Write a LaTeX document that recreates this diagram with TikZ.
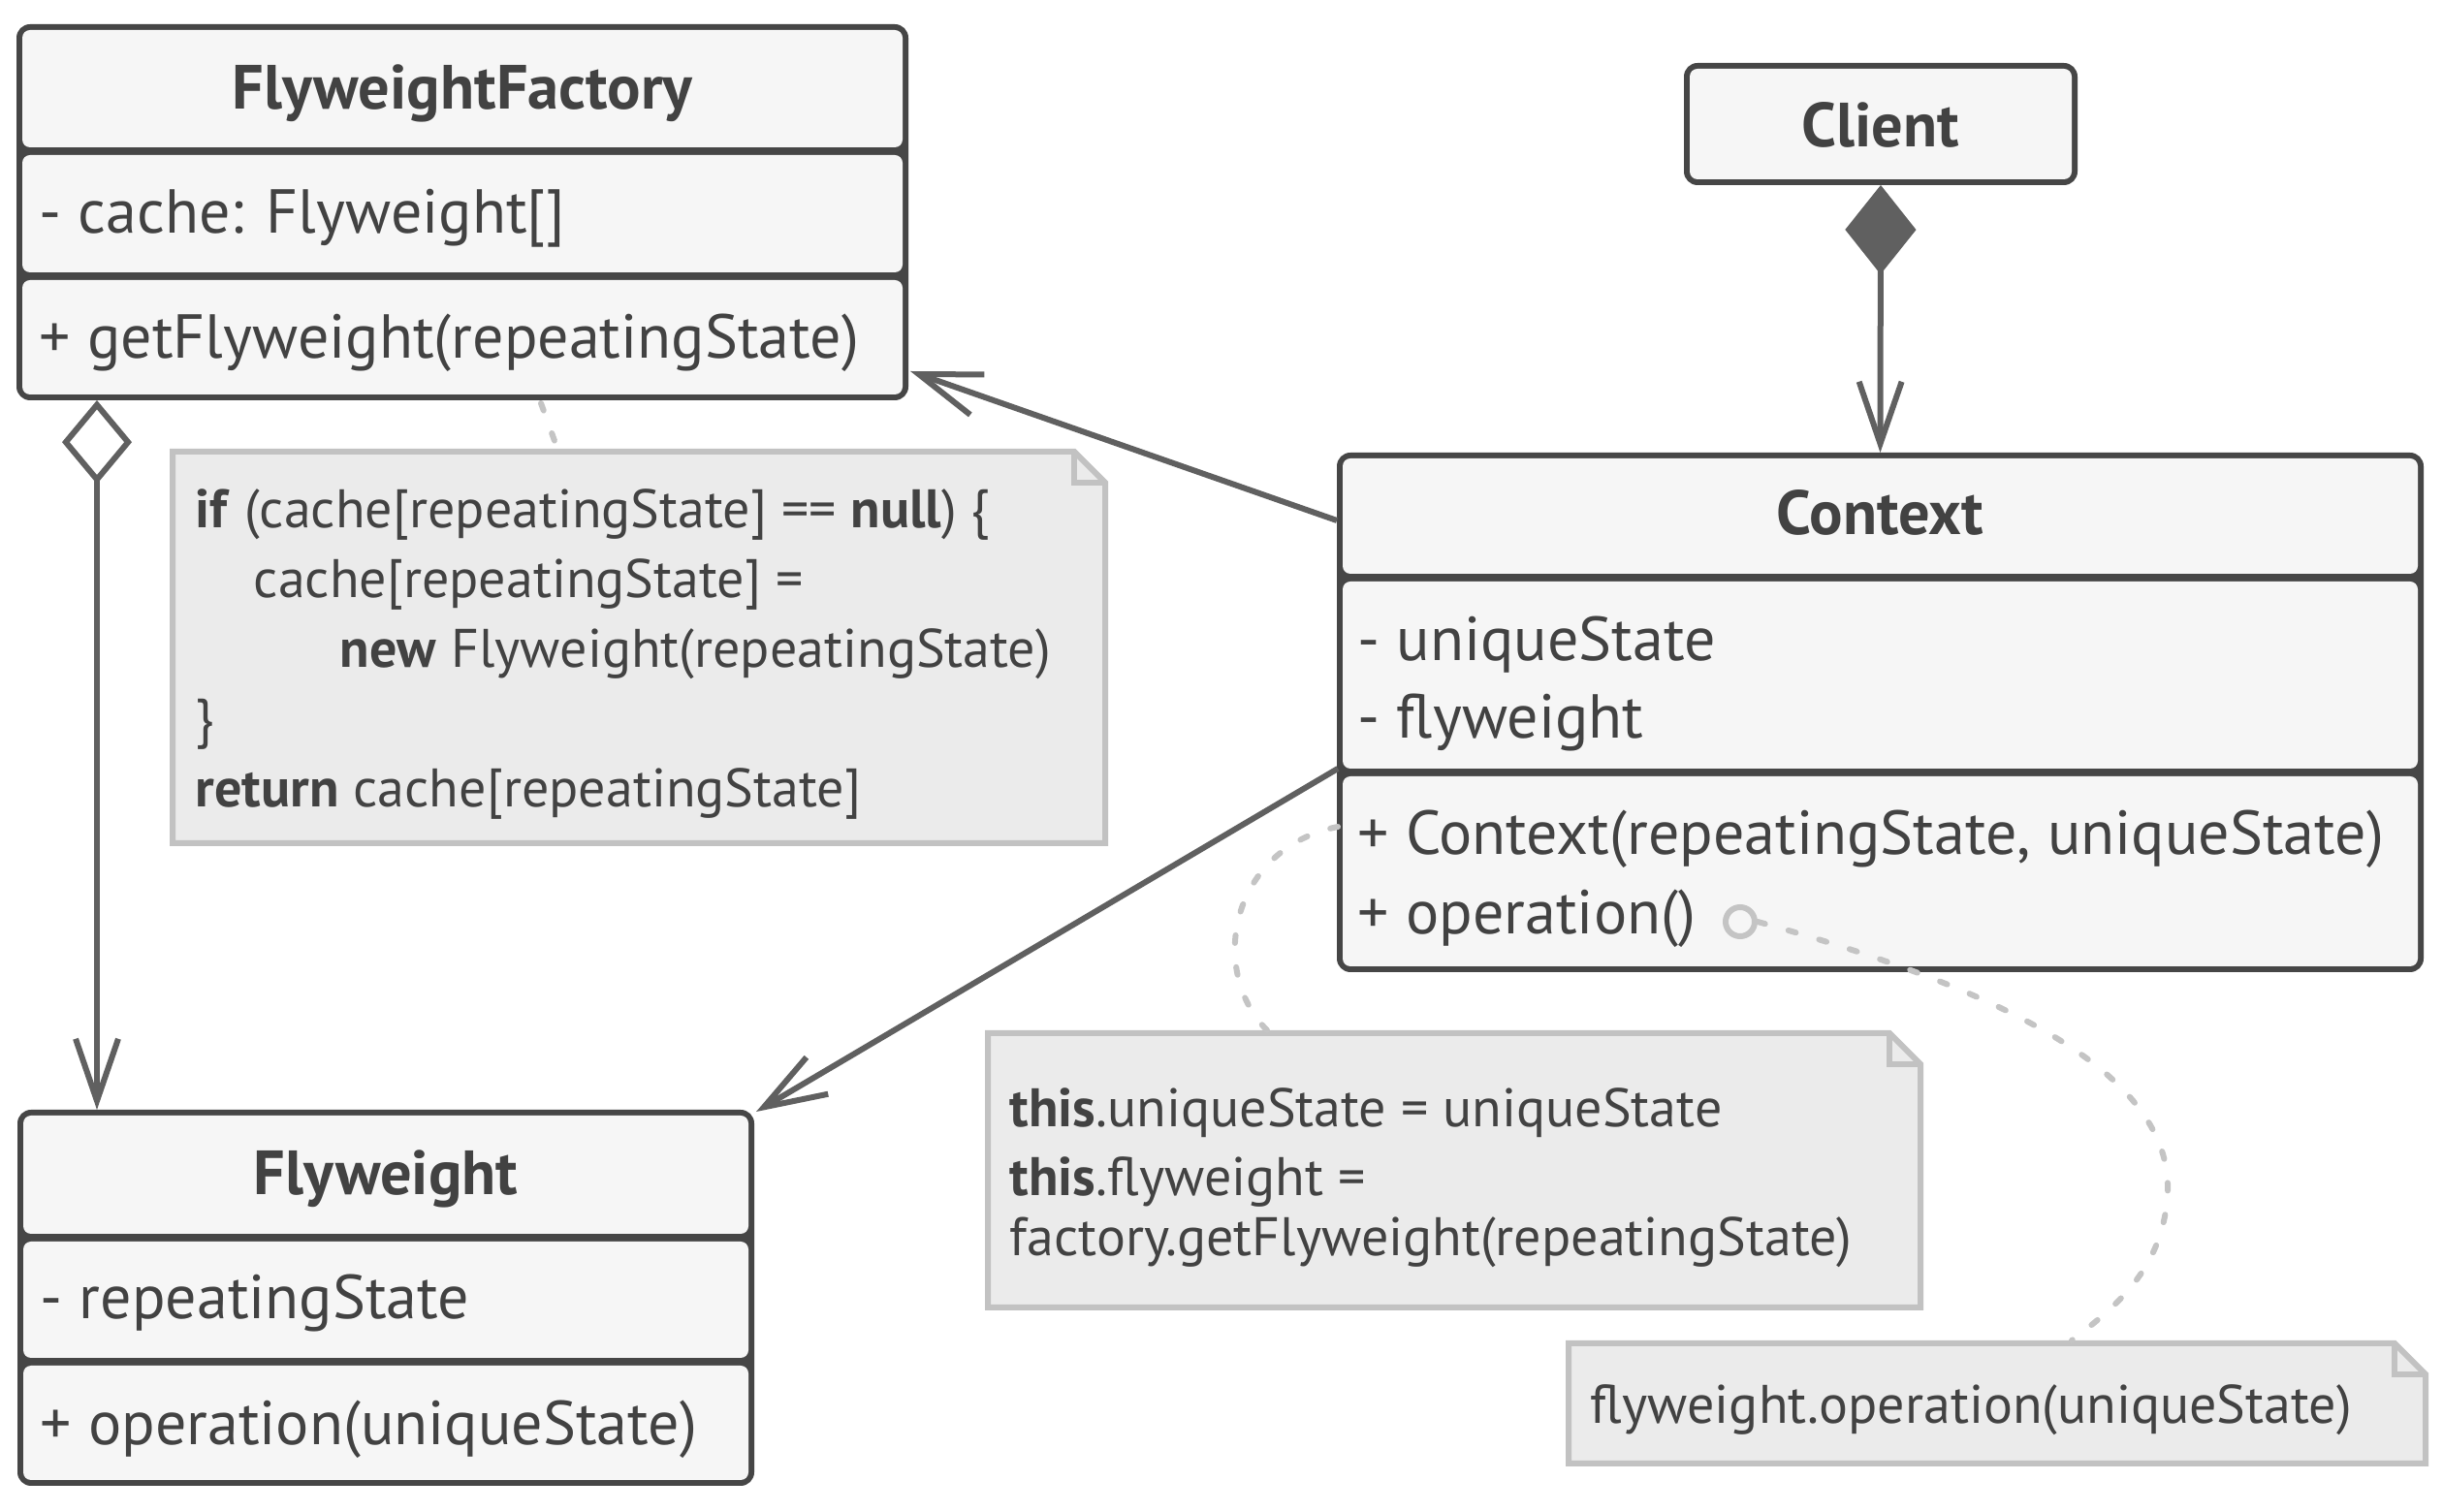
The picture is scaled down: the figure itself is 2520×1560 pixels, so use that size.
\documentclass[tikz,border=0pt]{standalone}
\usepackage{fontspec}
\setmainfont{PT Sans}
\usetikzlibrary{arrows.meta,calc,fit}

\definecolor{boxdark}{HTML}{464646}
\definecolor{boxfill}{HTML}{F6F6F6}
\definecolor{textcol}{HTML}{424242}
\definecolor{linecol}{HTML}{606060}
\definecolor{notefill}{HTML}{EBEBEB}
\definecolor{noteline}{HTML}{C2C2C2}
\definecolor{dashcol}{HTML}{C4C4C4}

\begin{document}
\begin{tikzpicture}[x=0.25pt,y=-0.25pt,
  classouter/.style={inner sep=0pt, outer sep=0pt, fill=boxdark, rounded corners=3.5pt},
  section/.style={inner sep=0pt, outer sep=0pt, fill=boxfill, rounded corners=2pt},
  headtext/.style={anchor=base, inner sep=0pt, text=textcol, font=\fontsize{16.1}{19}\selectfont\bfseries},
  membertext/.style={anchor=base west, inner sep=0pt, text=textcol, font=\fontsize{16}{19}\selectfont},
  notetext/.style={anchor=base west, inner sep=0pt, text=textcol, font=\fontsize{14}{17}\selectfont},
  notearea/.style={inner sep=0pt, outer sep=0pt},
  noteshape/.style={draw=noteline, fill=notefill, line width=1.5pt, line join=miter},
  assoc/.style={draw=linecol, line width=1.5pt, -{Straight Barb[length=16pt,width=11pt]}},
  composition/.style={draw=linecol, line width=1.5pt,
    {Diamond[length=23pt,width=18.3pt,fill=linecol]}-{Straight Barb[length=16pt,width=11pt]}},
  aggregation/.style={draw=linecol, line width=1.5pt,
    {Diamond[open,length=21.6pt,width=18pt]}-{Straight Barb[length=16pt,width=11pt]}},
  notelink/.style={draw=dashcol, line width=1.5pt, line cap=round, dash pattern=on 2pt off 6.25pt},
]
\fill[white] (0,0) rectangle (2520,1560);
\useasboundingbox (0,0) rectangle (2520,1560);

% ---------- FlyweightFactory ----------
\node[classouter, fit={(17,25) (937,413)}] (ff) {};
\node[section, fit={(23,31) (931,152)}] (ff-head) {};
\node[section, fit={(23,160) (931,281)}] (ff-attr) {};
\node[section, fit={(23,289) (931,407)}] (ff-ops) {};
\node[headtext] (ff-name) at (477,113) {FlyweightFactory};
\node[membertext] (ff-cache) at (40,241) {- cache: Flyweight[]};
\node[membertext] (ff-get) at (40,370) {+ getFlyweight(repeatingState)};

% ---------- Client ----------
\node[classouter, fit={(1737,65) (2143,191)}] (client) {};
\node[section, fit={(1743,71) (2137,185)}] (client-head) {};
\node[headtext] (client-name) at (1940,152) {Client};

% ---------- Context ----------
\node[classouter, fit={(1379,467) (2500,1003)}] (ctx) {};
\node[section, fit={(1385,473) (2494,592)}] (ctx-head) {};
\node[section, fit={(1385,600) (2494,793)}] (ctx-attr) {};
\node[section, fit={(1385,801) (2494,997)}] (ctx-ops) {};
\node[headtext] (ctx-name) at (1939.5,552) {Context};
\node[membertext] (ctx-unique) at (1400,682) {- uniqueState};
\node[membertext] (ctx-fw) at (1400,762) {- flyweight};
\node[membertext] (ctx-ctor) at (1400,882) {+ Context(repeatingState, uniqueState)};
\node[membertext] (ctx-op) at (1400,964) {+ operation()};
\node[circle, draw=dashcol, line width=1.5pt, inner sep=0pt, minimum size=7.5pt] (opdot) at (1795,951) {};

% ---------- Flyweight ----------
\node[classouter, fit={(18,1145) (778,1533)}] (fw) {};
\node[section, fit={(24,1151) (772,1273)}] (fw-head) {};
\node[section, fit={(24,1281) (772,1401)}] (fw-attr) {};
\node[section, fit={(24,1409) (772,1527)}] (fw-ops) {};
\node[headtext] (fw-name) at (398,1233) {Flyweight};
\node[membertext] (fw-state) at (41,1361) {- repeatingState};
\node[membertext] (fw-op) at (41,1491) {+ operation(uniqueState)};

% ---------- notes ----------
\node[notearea, fit={(178,466) (1140,870)}] (n1) {};
\draw[noteshape] (n1.north west) -- ([xshift=-8pt]n1.north east) -- ([yshift=-8pt]n1.north east)
  -- (n1.south east) -- (n1.south west) -- cycle;
\draw[draw=noteline, line width=1.5pt] ([xshift=-8pt]n1.north east) -- ([xshift=-8pt,yshift=-8pt]n1.north east) -- ([yshift=-8pt]n1.north east);
\node[notetext] (n1-l1) at (201,545) {\textbf{if} (cache[repeatingState] == \textbf{null}) \{};
\node[notetext] (n1-l2) at (261,617) {cache[repeatingState] =};
\node[notetext] (n1-l3) at (350,689) {\textbf{new} Flyweight(repeatingState)};
\node[notetext] (n1-l4) at (201,761) {\}};
\node[notetext] (n1-l5) at (201,833) {\textbf{return} cache[repeatingState]};

\node[notearea, fit={(1019,1066) (1981,1349)}] (n2) {};
\draw[noteshape] (n2.north west) -- ([xshift=-8pt]n2.north east) -- ([yshift=-8pt]n2.north east)
  -- (n2.south east) -- (n2.south west) -- cycle;
\draw[draw=noteline, line width=1.5pt] ([xshift=-8pt]n2.north east) -- ([xshift=-8pt,yshift=-8pt]n2.north east) -- ([yshift=-8pt]n2.north east);
\node[notetext] (n2-l1) at (1041,1163) {\textbf{this}.uniqueState = uniqueState};
\node[notetext] (n2-l2) at (1041,1234) {\textbf{this}.flyweight =};
\node[notetext] (n2-l3) at (1041,1296) {factory.getFlyweight(repeatingState)};

\node[notearea, fit={(1618,1386) (2502,1510)}] (n3) {};
\draw[noteshape] (n3.north west) -- ([xshift=-8pt]n3.north east) -- ([yshift=-8pt]n3.north east)
  -- (n3.south east) -- (n3.south west) -- cycle;
\draw[draw=noteline, line width=1.5pt] ([xshift=-8pt]n3.north east) -- ([xshift=-8pt,yshift=-8pt]n3.north east) -- ([yshift=-8pt]n3.north east);
\node[notetext] (n3-l1) at (1640,1469) {flyweight.operation(uniqueState)};

% ---------- relations ----------
\draw[composition] (client.south) -- (ctx.north);
\draw[aggregation] ($(ff.south west)+(83,0)$) -- ($(fw.north west)+(82,0)$);
\draw[assoc] ($(ctx.north west)+(0,70)$) -- ($(ff.north east)+(2,358)$);
\draw[assoc] ($(ctx.north west)+(1,326)$) -- ($(fw.north east)+(2,2)$);

% ---------- note links ----------
\draw[notelink] ($(ff.south west)+(541,3)$) -- ($(n1.north west)+(397,-3)$);
\draw[notelink] ($(ctx.north west)+(1,386)$) .. controls (1270,875) and (1245,1000) .. ($(n2.north west)+(288,-3)$);
\draw[notelink] (opdot.east) .. controls (2100,1030) and (2240,1120) .. (2236,1230)
  .. controls (2232,1310) and (2180,1350) .. ($(n3.north west)+(519,-3)$);
\end{tikzpicture}
\end{document}
